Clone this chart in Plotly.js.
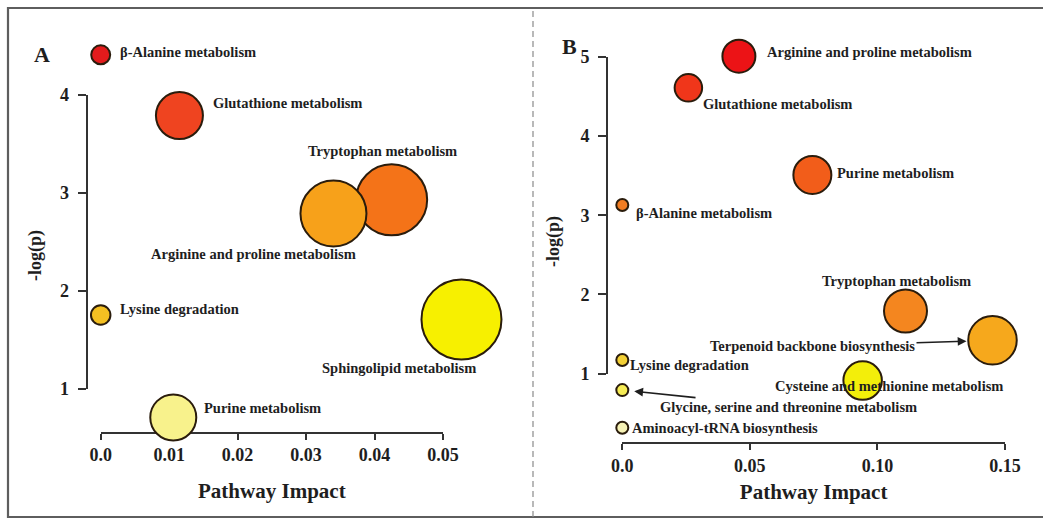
<!DOCTYPE html>
<html><head><meta charset="utf-8">
<script src="https://cdn.plot.ly/plotly-3.0.1.min.js"></script>
<style>html,body{margin:0;padding:0;background:#fff}#chart{width:1043px;height:519px}</style>
</head><body><div id="chart"></div>
<script>
// ---------- Panel A data ----------
const aPathways = ['β-Alanine metabolism', 'Glutathione metabolism', 'Tryptophan metabolism',
  'Arginine and proline metabolism', 'Lysine degradation', 'Sphingolipid metabolism', 'Purine metabolism'];
const aImpact = [0.0, 0.0115, 0.0425, 0.034, 0.0, 0.0527, 0.0106];
const aLogP = [4.41, 3.79, 2.93, 2.79, 1.755, 1.71, 0.71];
const aBubble = [19, 47, 71, 66, 19.5, 80, 46];
const aXTickVals = [0, 0.01, 0.02, 0.03, 0.04, 0.05];
const aXTickText = ['0.0', '0.01', '0.02', '0.03', '0.04', '0.05'];
const aYTickVals = [1, 2, 3, 4];

// ---------- Panel B data ----------
const bPathways = ['Arginine and proline metabolism', 'Glutathione metabolism', 'Purine metabolism',
  'β-Alanine metabolism', 'Tryptophan metabolism', 'Terpenoid backbone biosynthesis',
  'Cysteine and methionine metabolism', 'Lysine degradation',
  'Glycine, serine and threonine metabolism', 'Aminoacyl-tRNA biosynthesis'];
const bImpact = [0.0457, 0.0259, 0.0745, 0.0, 0.111, 0.1451, 0.0942, 0.0, 0.0, 0.0];
const bLogP = [5.01, 4.61, 3.51, 3.13, 1.79, 1.42, 0.91, 1.17, 0.79, 0.315];
const bBubble = [33, 27.5, 38, 12, 43, 48.5, 38.5, 12, 12, 12];
const bXTickVals = [0, 0.05, 0.10, 0.15];
const bXTickText = ['0.0', '0.05', '0.10', '0.15'];
const bYTickVals = [1, 2, 3, 4, 5];

// ---------- styles ----------
const aColors = ['#e31b1c', '#ef4420', '#f47318', '#f7a11a', '#f4c022', '#f7f000', '#f8f28c'];
const bColors = ['#ec1316', '#f0361a', '#f25d1a', '#f27d22', '#f4861f', '#f6a81c',
  '#f3ee0a', '#f3d035', '#f6ec55', '#f6f2b5'];
// label placement relative to each bubble (pixels)
const aLabelPos = [
  {anchor: 'left', dx: 17, dy: 3}, {anchor: 'left', dx: 32, dy: 13},
  {anchor: 'center', dx: -9, dy: 49}, {anchor: 'center', dx: -80, dy: -40},
  {anchor: 'left', dx: 17, dy: 6}, {anchor: 'center', dx: -62, dy: -49},
  {anchor: 'left', dx: 29, dy: 9}];
const bLabelPos = [
  {anchor: 'left', dx: 26, dy: 4}, {anchor: 'left', dx: 13, dy: -16},
  {anchor: 'left', dx: 23, dy: 2}, {anchor: 'left', dx: 12, dy: -8},
  {anchor: 'center', dx: -9, dy: 30}, {arrow: true, ax: -180, ay: 6, standoff: 26},
  {anchor: 'center', dx: 26, dy: -5}, {anchor: 'left', dx: 6, dy: -5},
  {arrow: true, ax: 166, ay: 17, standoff: 12}, {anchor: 'left', dx: 8, dy: 0}];

const FONT = 'Liberation Serif, Times New Roman, serif';
const INK = '#1e1e1e';
const W = 1043, H = 519;
const px = v => v / W;
const py = v => 1 - v / H;

// Visible axes geometry (pixels)
const aFrame = {x0: 100.7, x1: 443, yb: 389, yt: 95, xLine: 432.7, yLine: 86.7};
const bFrame = {x0: 622.3, x1: 1005, yb: 373.5, yt: 57, xLine: 442.7, yLine: 607};
// Invisible data axes covering the whole panel
const aArea = {l: 12, r: 528, t: 12, b: 512};
const bArea = {l: 540, r: 1040, t: 12, b: 512};

function extend(p0, p1, r0, r1, q0, q1) {
  const s = (r1 - r0) / (p1 - p0);
  return [r0 + (q0 - p0) * s, r0 + (q1 - p0) * s];
}

function dispX(f, tv, tt, lab, pos) {
  return {
    anchor: 'free', position: py(f.xLine), domain: [px(f.x0), px(f.x1)],
    range: [tv[0], tv[tv.length - 1]], tickvals: tv, ticktext: tt,
    showline: true, linecolor: '#333', linewidth: 2, ticks: 'outside', ticklen: 6,
    tickwidth: 2, tickcolor: '#333', showgrid: false, zeroline: false,
    ticklabelstandoff: lab,
    tickfont: {family: FONT, size: 18, color: INK, weight: 'bold'},
    title: {text: 'Pathway Impact', standoff: pos, font: {family: FONT, size: 21, color: INK, weight: 'bold'}},
    fixedrange: true
  };
}
function dispY(f, tv) {
  return {
    anchor: 'free', position: px(f.yLine), domain: [py(f.yb), py(f.yt)],
    range: [tv[0], tv[tv.length - 1]], tickvals: tv,
    showline: true, linecolor: '#333', linewidth: 2, ticks: 'outside', ticklen: 8,
    tickwidth: 2, tickcolor: '#333', showgrid: false, zeroline: false,
    ticklabelstandoff: 5,
    tickfont: {family: FONT, size: 18, color: INK, weight: 'bold'},
    fixedrange: true
  };
}
function dataX(f, area, tv, anchor) {
  return {visible: false, anchor: anchor, domain: [px(area.l), px(area.r)],
    range: extend(f.x0, f.x1, tv[0], tv[tv.length - 1], area.l, area.r), fixedrange: true};
}
function dataY(f, area, tv, anchor) {
  return {visible: false, anchor: anchor, domain: [py(area.b), py(area.t)],
    range: extend(f.yb, f.yt, tv[0], tv[tv.length - 1], area.b, area.t), fixedrange: true};
}

const traces = [
  {type: 'scatter', mode: 'none', x: aImpact, y: aLogP, xaxis: 'x', yaxis: 'y', hoverinfo: 'skip', showlegend: false},
  {type: 'scatter', mode: 'none', x: bImpact, y: bLogP, xaxis: 'x2', yaxis: 'y2', hoverinfo: 'skip', showlegend: false},
  {type: 'scatter', mode: 'markers', x: aImpact, y: aLogP, text: aPathways, xaxis: 'x3', yaxis: 'y3',
    cliponaxis: false, showlegend: false, hovertemplate: '%{text}<br>Impact %{x}<br>-log(p) %{y}<extra></extra>',
    marker: {size: aBubble, color: aColors, opacity: 1, line: {color: '#2a1c0c', width: 2}}},
  {type: 'scatter', mode: 'markers', x: bImpact, y: bLogP, text: bPathways, xaxis: 'x4', yaxis: 'y4',
    cliponaxis: false, showlegend: false, hovertemplate: '%{text}<br>Impact %{x}<br>-log(p) %{y}<extra></extra>',
    marker: {size: bBubble, color: bColors, opacity: 1, line: {color: '#2a1c0c', width: 2}}}
];

const labelFont = {family: FONT, size: 14.5, color: INK, weight: 'bold'};
function labels(names, xs, ys, pos, xr, yr) {
  return names.map((n, i) => {
    const p = pos[i];
    if (p.arrow) {
      return {xref: xr, yref: yr, x: xs[i], y: ys[i], text: n, showarrow: true,
        ax: p.ax, ay: p.ay, standoff: p.standoff, arrowhead: 2, arrowsize: 1.1,
        arrowwidth: 1.6, arrowcolor: INK, font: labelFont};
    }
    return {xref: xr, yref: yr, x: xs[i], y: ys[i], text: n, showarrow: false,
      xanchor: p.anchor, yanchor: 'middle', xshift: p.dx, yshift: p.dy, font: labelFont};
  });
}

const paperText = (x, y, text, size, angle) => ({
  xref: 'paper', yref: 'paper', x: px(x), y: py(y), text: text, showarrow: false,
  xanchor: 'center', yanchor: 'middle', textangle: angle || 0,
  font: {family: FONT, size: size, color: INK, weight: 'bold'}
});

const annotations = [].concat(
  labels(aPathways, aImpact, aLogP, aLabelPos, 'x3', 'y3'),
  labels(bPathways, bImpact, bLogP, bLabelPos, 'x4', 'y4'),
  [
    paperText(42, 55, 'A', 22),
    paperText(569, 46, 'B', 22),
    paperText(35, 256, '-log(p)', 18, -90),
    paperText(553, 242, '-log(p)', 18, -90)
  ]
);

const layout = {
  width: W, height: H, margin: {l: 0, r: 0, t: 0, b: 0, pad: 0},
  paper_bgcolor: '#ffffff', plot_bgcolor: 'rgba(0,0,0,0)',
  font: {family: FONT, color: INK},
  showlegend: false, hovermode: 'closest',
  xaxis: dispX(aFrame, aXTickVals, aXTickText, 0, 18),
  yaxis: dispY(aFrame, aYTickVals),
  xaxis2: dispX(bFrame, bXTickVals, bXTickText, 1, 8),
  yaxis2: dispY(bFrame, bYTickVals),
  xaxis3: dataX(aFrame, aArea, aXTickVals, 'y3'),
  yaxis3: dataY(aFrame, aArea, aYTickVals, 'x3'),
  xaxis4: dataX(bFrame, bArea, bXTickVals, 'y4'),
  yaxis4: dataY(bFrame, bArea, bYTickVals, 'x4'),
  annotations: annotations,
  shapes: [
    {type: 'rect', xref: 'paper', yref: 'paper', x0: px(8), x1: px(1060), y0: py(517), y1: py(8),
      line: {color: '#5e5e5e', width: 2.2}, fillcolor: 'rgba(0,0,0,0)', layer: 'below'},
    {type: 'line', xref: 'paper', yref: 'paper', x0: px(533), x1: px(533), y0: py(517), y1: py(8),
      line: {color: '#8a8a8a', width: 1.2, dash: '6px,4px'}, layer: 'below'}
  ]
};

Plotly.newPlot('chart', traces, layout, {displayModeBar: false, staticPlot: false});
</script>
</body></html>
